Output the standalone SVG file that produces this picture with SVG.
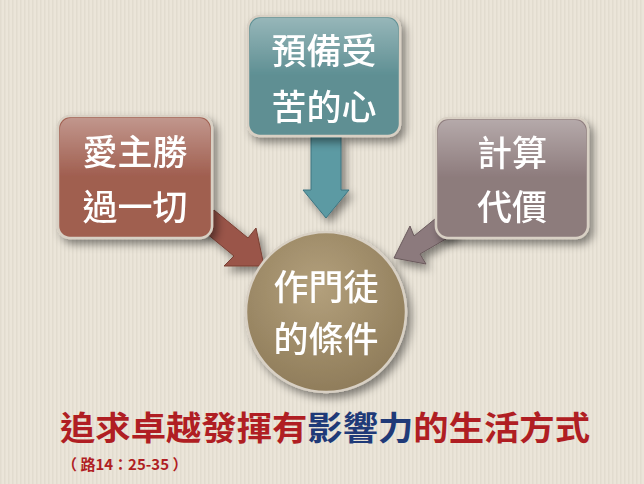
<svg xmlns="http://www.w3.org/2000/svg" width="644" height="484" viewBox="0 0 644 484">
<defs>
<pattern id="st" width="4" height="4" patternUnits="userSpaceOnUse"><rect width="4" height="4" fill="#ebe5d9"/><rect width="1.5" height="4" fill="#e2dccf"/></pattern>
<filter id="sh" x="-20%" y="-20%" width="150%" height="150%"><feDropShadow dx="4" dy="5" stdDeviation="4" flood-color="#000" flood-opacity="0.45"/></filter>
<linearGradient id="gl" x1="0" y1="0" x2="0" y2="1"><stop offset="0" stop-color="#fff" stop-opacity="0.35"/><stop offset="0.5" stop-color="#fff" stop-opacity="0"/></linearGradient>
<radialGradient id="gc" cx="0.45" cy="0.35" r="0.7"><stop offset="0" stop-color="#b3a07c"/><stop offset="1" stop-color="#8d7a58"/></radialGradient>
<style>
.t{font-family:"Noto Sans CJK TC","Noto Sans CJK SC",sans-serif;font-weight:500;fill:#fff;font-size:35px;text-anchor:middle}
.b{stroke:#d8d0c4;stroke-width:2.5}
.h{font-family:"Noto Sans CJK TC","Noto Sans CJK SC",sans-serif;font-weight:bold;font-size:33px}
</style>
</defs>
<rect width="644" height="484" fill="url(#st)"/>
<g id="connectors" filter="url(#sh)">
<polygon points="196,232 214,210 248,238 256,228 264,266 224,266 234,256 200,228" fill="#9a5548" stroke="#7a4034"/>
<polygon points="311,136 341,136 341,190 349,190 326,218 303,190 311,190" fill="#5c9aa3" stroke="#3e7480"/>
<polygon points="446,210 458,232 420,254 426,264 394,258 410,226 414,236" fill="#8c7a7d" stroke="#6a5a5c"/>
</g>
<g id="n1" filter="url(#sh)"><rect x="58" y="116" width="154" height="122" rx="12" fill="#a05e4f" class="b"/><rect x="60" y="118" width="150" height="118" rx="11" fill="url(#gl)"/>
<text class="t" x="135" y="165">愛主勝</text><text class="t" x="135" y="220">過一切</text></g>
<g id="n2" filter="url(#sh)"><rect x="248" y="16" width="152" height="120" rx="12" fill="#5e8f93" class="b"/><rect x="250" y="18" width="148" height="116" rx="11" fill="url(#gl)"/>
<text class="t" x="324" y="64">預備受</text><text class="t" x="324" y="120">苦的心</text></g>
<g id="n3" filter="url(#sh)"><rect x="436" y="118" width="152" height="120" rx="12" fill="#8d7b7c" class="b"/><rect x="438" y="120" width="148" height="116" rx="11" fill="url(#gl)"/>
<text class="t" x="512" y="166">計算</text><text class="t" x="512" y="220">代價</text></g>
<g id="n4" filter="url(#sh)"><circle cx="326" cy="312" r="80" fill="url(#gc)" class="b"/>
<text class="t" x="326" y="300">作門徒</text><text class="t" x="326" y="352">的條件</text></g>
<text class="h" x="60" y="440" textLength="530" lengthAdjust="spacingAndGlyphs"><tspan fill="#b01e23">追求卓越發揮有</tspan><tspan fill="#1f3a78">影響力</tspan><tspan fill="#b01e23">的生活方式</tspan></text>
<text x="62" y="470" font-family="'Noto Sans CJK TC',sans-serif" font-weight="bold" font-size="15" fill="#b01e23">（ 路14：25-35 ）</text>
</svg>
